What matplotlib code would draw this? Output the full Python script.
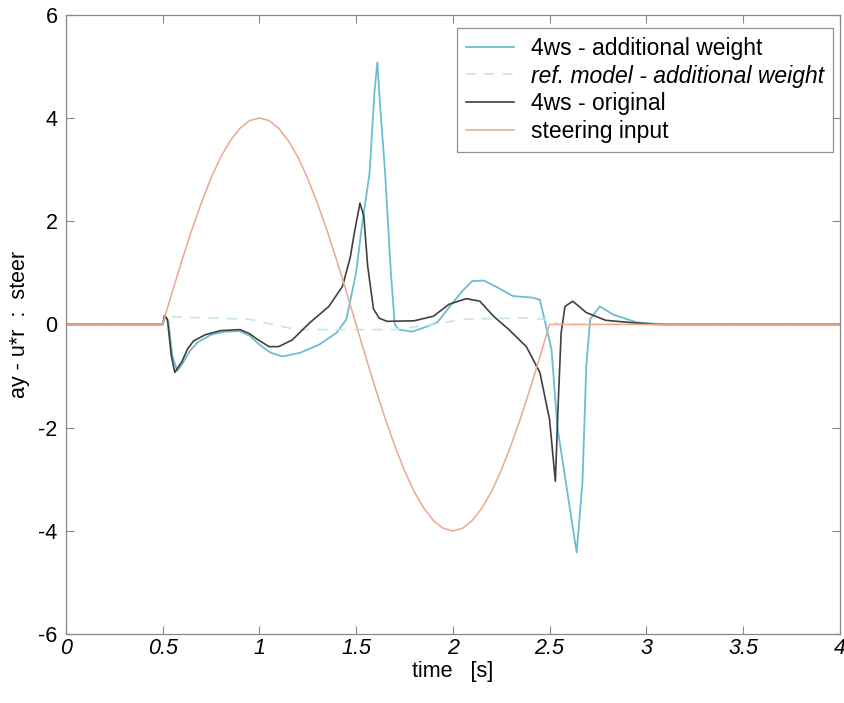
import matplotlib
matplotlib.use("Agg")
import matplotlib.pyplot as plt

plt.rcParams['font.family'] = ['Liberation Sans', 'DejaVu Sans']

# 4ws - additional weight
t_add = [0.0, 0.5, 0.515, 0.53, 0.55, 0.575, 0.6, 0.64, 0.68, 0.75, 0.82, 0.9, 0.95, 1.0, 1.06, 1.12,
         1.21, 1.31, 1.40, 1.45, 1.50, 1.53, 1.57, 1.595, 1.61, 1.625, 1.65, 1.68, 1.70,
         1.72, 1.79, 1.86, 1.92, 2.0, 2.05, 2.10, 2.16, 2.23, 2.31, 2.41, 2.45, 2.47,
         2.51, 2.54, 2.59, 2.64, 2.67, 2.69, 2.71, 2.76, 2.83, 2.95, 3.1, 4.0]
v_add = [0.0, 0.0, 0.15, 0.05, -0.6, -0.9, -0.78, -0.52, -0.35, -0.2, -0.14, -0.13, -0.22, -0.39, -0.55, -0.62,
         -0.55, -0.39, -0.16, 0.1, 1.0, 1.9, 2.94, 4.5, 5.08, 4.2, 2.94, 1.0, 0.0,
         -0.1, -0.14, -0.05, 0.04, 0.42, 0.65, 0.84, 0.85, 0.72, 0.55, 0.52, 0.48, 0.16,
         -0.48, -1.97, -3.2, -4.42, -3.07, -0.8, 0.1, 0.35, 0.19, 0.04, 0.0, 0.0]

# ref. model - additional weight
t_ref = [0.0, 0.5, 0.53, 0.7, 0.95, 1.1, 1.2, 1.7, 1.9, 2.05, 2.4, 2.5, 2.55, 4.0]
v_ref = [0.0, 0.0, 0.15, 0.13, 0.1, -0.03, -0.1, -0.1, 0.0, 0.1, 0.13, 0.08, 0.0, 0.0]

# 4ws - original
t_org = [0.0, 0.5, 0.51, 0.525, 0.545, 0.563, 0.6, 0.63, 0.66, 0.72, 0.8, 0.9, 0.95, 0.99, 1.05,
         1.1, 1.17, 1.26, 1.36, 1.43, 1.47, 1.49, 1.52, 1.54, 1.56, 1.59, 1.62, 1.66,
         1.8, 1.9, 1.98, 2.07, 2.14, 2.21, 2.29, 2.38, 2.45, 2.50, 2.53, 2.545, 2.56,
         2.58, 2.62, 2.69, 2.79, 2.91, 3.05, 4.0]
v_org = [0.0, 0.0, 0.17, 0.1, -0.6, -0.93, -0.72, -0.47, -0.32, -0.2, -0.12, -0.1, -0.18, -0.29, -0.43,
         -0.43, -0.3, 0.03, 0.35, 0.74, 1.3, 1.75, 2.35, 2.1, 1.13, 0.3, 0.12, 0.06,
         0.07, 0.16, 0.39, 0.5, 0.45, 0.16, -0.1, -0.43, -0.93, -1.84, -3.04, -1.5, -0.16,
         0.35, 0.45, 0.23, 0.08, 0.04, 0.0, 0.0]

# steering input
t_steer = [0.0, 0.5, 0.55, 0.6, 0.65, 0.7, 0.75, 0.8, 0.85, 0.9, 0.95, 1.0, 1.05, 1.1, 1.15,
           1.2, 1.25, 1.3, 1.35, 1.4, 1.45, 1.5, 1.55, 1.6, 1.65, 1.7, 1.75, 1.8, 1.85,
           1.9, 1.95, 2.0, 2.05, 2.1, 2.15, 2.2, 2.25, 2.3, 2.35, 2.4, 2.45, 2.5, 4.0]
v_steer = [0.0, 0.0, 0.63, 1.24, 1.82, 2.35, 2.83, 3.24, 3.56, 3.80, 3.95, 4.0, 3.95, 3.80, 3.56,
           3.24, 2.83, 2.35, 1.82, 1.24, 0.63, 0.0, -0.63, -1.24, -1.82, -2.35, -2.83, -3.24, -3.56,
           -3.80, -3.95, -4.0, -3.95, -3.80, -3.56, -3.24, -2.83, -2.35, -1.82, -1.24, -0.63, 0.0, 0.0]

x_ticks = [0, 0.5, 1, 1.5, 2, 2.5, 3, 3.5, 4]
x_tick_labels = ['0', '0.5', '1', '1.5', '2', '2.5', '3', '3.5', '4']
y_ticks = [-6, -4, -2, 0, 2, 4, 6]
y_tick_labels = ['-6', '-4', '-2', '0', '2', '4', '6']

fig = plt.figure(figsize=(8.44, 7.03), dpi=100)
ax = fig.add_axes([0.078, 0.098, 0.917, 0.881])

ax.plot(t_add, v_add, color='#6cbdd0', lw=1.3, label='4ws - additional weight')
ax.plot(t_ref, v_ref, color='#c4e5ec', lw=1.2, ls=(0, (6, 5)), label='ref. model - additional weight')
ax.plot(t_org, v_org, color='#404040', lw=1.2, label='4ws - original')
ax.plot(t_steer, v_steer, color='#eba98c', lw=1.1, label='steering input')

ax.set_xlim(0, 4)
ax.set_ylim(-6, 6)
ax.set_xticks(x_ticks)
ax.set_xticklabels(x_tick_labels, fontsize=15.5, style='italic')
ax.set_yticks(y_ticks)
ax.set_yticklabels(y_tick_labels, fontsize=15.5)
ax.tick_params(direction='in', length=6, width=0.8, color='#888888', top=True, right=True)
ax.tick_params(axis='x', pad=3)
ax.tick_params(axis='y', pad=6)
for s in ax.spines.values():
    s.set_color('#888888')
    s.set_linewidth(0.9)

ax.set_xlabel('time   [s]', fontsize=15.5, labelpad=1)
ax.set_ylabel('ay - u*r  :  steer', fontsize=15.5, labelpad=6)

leg = ax.legend(loc='upper right', bbox_to_anchor=(0.991, 0.979), borderaxespad=0,
                fontsize=16.5, frameon=True, fancybox=False, edgecolor='#777777',
                handlelength=2.1, handletextpad=0.7, labelspacing=0.2,
                borderpad=0.4)
leg.get_frame().set_linewidth(0.9)
leg.get_texts()[1].set_style('italic')

fig.savefig('out.png', dpi=100, facecolor='white')
